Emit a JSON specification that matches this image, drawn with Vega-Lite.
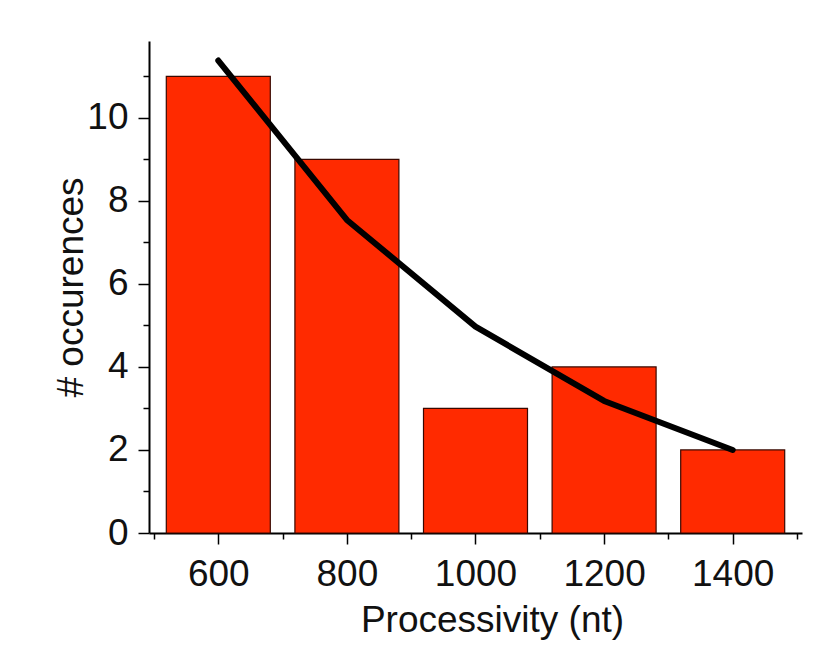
{
  "$schema": "https://vega.github.io/schema/vega-lite/v6.json",
  "autosize": {"type": "none"},
  "width": 653,
  "height": 492,
  "padding": {"left": 149, "top": 41, "right": 33, "bottom": 128},
  "background": "#ffffff",
  "config": {
    "view": {"stroke": null},
    "font": "Liberation Sans",
    "axis": {
      "domainColor": "#000000",
      "domainWidth": 2,
      "tickColor": "#000000",
      "tickWidth": 1.5,
      "labelFont": "Liberation Sans",
      "labelFontSize": 37,
      "labelColor": "#111111",
      "titleFont": "Liberation Sans",
      "titleFontSize": 37,
      "titleFontWeight": "normal",
      "titleColor": "#111111",
      "grid": false
    }
  },
  "datasets": {
    "bars": [
      {"processivity": 600, "count": 11},
      {"processivity": 800, "count": 9},
      {"processivity": 1000, "count": 3},
      {"processivity": 1200, "count": 4},
      {"processivity": 1400, "count": 2}
    ],
    "fit": [
      {"processivity": 600, "fit": 11.38},
      {"processivity": 800, "fit": 7.54},
      {"processivity": 1000, "fit": 4.97},
      {"processivity": 1200, "fit": 3.18},
      {"processivity": 1400, "fit": 2.0}
    ]
  },
  "layer": [
    {
      "data": {"name": "bars"},
      "mark": {"type": "bar", "size": 104, "fill": "#ff2a00", "stroke": "#3a0800", "strokeWidth": 1.2},
      "encoding": {
        "x": {
          "field": "processivity",
          "type": "quantitative",
          "scale": {"domain": [500, 1500], "nice": false, "zero": false},
          "axis": {
            "title": "Processivity (nt)",
            "values": [500, 600, 700, 800, 900, 1000, 1100, 1200, 1300, 1400, 1500],
            "labelExpr": "datum.value % 200 === 0 && datum.value > 500 && datum.value < 1500 ? datum.value : ''",
            "tickSize": {"condition": {"test": "datum.value % 200 === 0", "value": 11}, "value": 6},
            "labelPadding": 12,
            "labelFlush": false,
            "labelOverlap": false,
            "titleX": 343,
            "titleY": 98,
            "titleBaseline": "alphabetic",
            "titleAnchor": null
          }
        },
        "y": {
          "field": "count",
          "type": "quantitative",
          "scale": {"domain": [0, 11.85], "nice": false},
          "axis": {
            "title": "# occurences",
            "values": [0, 1, 2, 3, 4, 5, 6, 7, 8, 9, 10, 11],
            "labelExpr": "datum.value % 2 === 0 ? datum.value : ''",
            "tickSize": {"condition": {"test": "datum.value % 2 === 0", "value": 11}, "value": 6},
            "labelPadding": 10,
            "labelFlush": false,
            "labelOverlap": false,
            "titleAngle": -90,
            "titleX": -67,
            "titleY": 246,
            "titleAlign": "center",
            "titleBaseline": "alphabetic"
          }
        }
      }
    },
    {
      "data": {"name": "fit"},
      "mark": {"type": "line", "color": "#000000", "strokeWidth": 6, "strokeCap": "round", "strokeJoin": "round"},
      "encoding": {
        "x": {"field": "processivity", "type": "quantitative"},
        "y": {"field": "fit", "type": "quantitative"}
      }
    }
  ]
}
